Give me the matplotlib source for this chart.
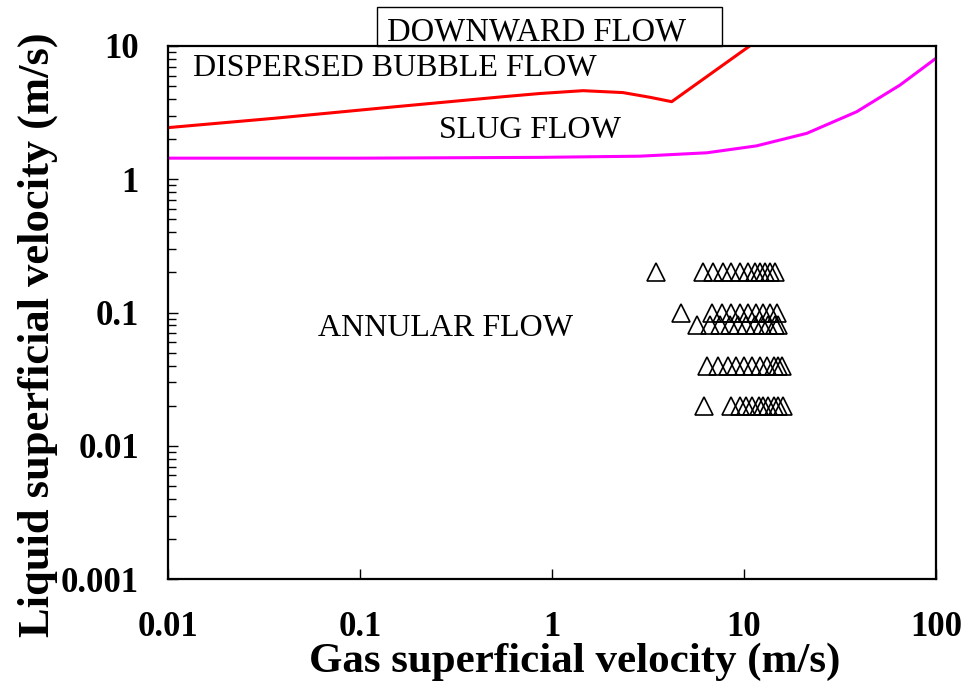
import matplotlib
matplotlib.use("Agg")
import matplotlib.pyplot as plt
from matplotlib.patches import Rectangle
from matplotlib.ticker import LogLocator, NullLocator, FixedLocator, FixedFormatter

# Boundary curves
red_x = [0.01, 0.036, 0.143, 0.565, 0.866, 1.45, 2.34, 3.24, 4.2, 10.7]
red_y = [2.44, 2.87, 3.47, 4.17, 4.4, 4.62, 4.47, 4.12, 3.82, 10.0]

mag_x = [0.01, 0.1, 0.866, 2.87, 6.4, 11.6, 21.2, 38.6, 64.9, 100.0]
mag_y = [1.44, 1.44, 1.46, 1.49, 1.58, 1.78, 2.21, 3.21, 5.09, 8.09]

# Experimental points (gas velocity per liquid velocity row)
row_02_x = [3.48, 6.1, 6.9, 7.8, 8.6, 9.5, 10.5, 11.4, 12.1, 12.9, 13.6, 14.5]
row_01_x = [4.7, 6.8, 7.66, 8.6, 9.5, 10.5, 11.5, 12.6, 13.6, 14.9]
row_008_x = [5.67, 6.65, 7.5, 8.5, 9.3, 10.2, 11.4, 12.4, 13.3, 14.5, 15.0]
row_004_x = [6.4, 7.3, 8.3, 9.1, 10.0, 11.0, 12.1, 13.1, 14.3, 15.0, 15.8]
row_002_x = [6.2, 8.6, 9.5, 10.2, 11.0, 11.9, 12.6, 13.3, 14.3, 15.0, 16.0]
rows = [(0.2, row_02_x), (0.1, row_01_x), (0.08, row_008_x),
        (0.04, row_004_x), (0.02, row_002_x)]

x_ticks = [0.01, 0.1, 1, 10, 100]
x_ticklabels = ["0.01", "0.1", "1", "10", "100"]
y_ticks = [0.001, 0.01, 0.1, 1, 10]
y_ticklabels = ["0.001", "0.01", "0.1", "1", "10"]

plt.rcParams['font.family'] = ['Liberation Serif', 'DejaVu Serif']

fig = plt.figure(figsize=(9.66, 6.83), dpi=100)
ax = fig.add_axes([0.1739, 0.152, 0.7951, 0.7807])

ax.plot(red_x, red_y, color='#ff0000', lw=2.2, zorder=3)
ax.plot(mag_x, mag_y, color='#ff00ff', lw=2.2, zorder=3)
for yv, xs in rows:
    ax.plot(xs, [yv] * len(xs), linestyle='none', marker='^', markersize=13,
            markerfacecolor='none', markeredgecolor='black', markeredgewidth=1.2,
            zorder=4)

ax.set_xscale('log')
ax.set_yscale('log')
ax.set_xlim(0.01, 100)
ax.set_ylim(0.001, 10)

ax.xaxis.set_major_locator(FixedLocator(x_ticks))
ax.xaxis.set_major_formatter(FixedFormatter(x_ticklabels))
ax.xaxis.set_minor_locator(NullLocator())
ax.yaxis.set_major_locator(FixedLocator(y_ticks))
ax.yaxis.set_major_formatter(FixedFormatter(y_ticklabels))
ax.yaxis.set_minor_locator(LogLocator(base=10, subs=range(2, 10)))

ax.tick_params(axis='x', which='major', direction='in', length=7, width=1,
               pad=23, labelsize=25)
ax.tick_params(axis='y', which='major', direction='in', length=7, width=1,
               pad=21, labelsize=25)
ax.tick_params(axis='y', which='minor', direction='in', length=6, width=1)
for lab in ax.get_xticklabels() + ax.get_yticklabels():
    lab.set_fontweight('bold')

for sp in ax.spines.values():
    sp.set_linewidth(1.6)
    sp.set_zorder(5)

ax.set_xlabel('Gas superficial velocity (m/s)', fontsize=31, fontweight='bold')
ax.set_ylabel('Liquid superficial velocity (m/s)', fontsize=32, fontweight='bold')
ax.xaxis.set_label_coords(0.53, -0.119)
ax.yaxis.set_label_coords(-0.143, 0.458)

ax.text(0.2956, 0.957, 'DISPERSED BUBBLE FLOW', transform=ax.transAxes,
        ha='center', va='center', fontsize=23)
ax.text(0.471, 0.842, 'SLUG FLOW', transform=ax.transAxes,
        ha='center', va='center', fontsize=23)
ax.text(0.361, 0.471, 'ANNULAR FLOW', transform=ax.transAxes,
        ha='center', va='center', fontsize=23)

rect = Rectangle((0.272, 1.0), 0.4495, 0.0732, transform=ax.transAxes,
                 facecolor='white', edgecolor='black', lw=1.0, clip_on=False,
                 zorder=1)
ax.add_patch(rect)
ax.text(0.48, 1.026, 'DOWNWARD FLOW', transform=ax.transAxes,
        ha='center', va='center', fontsize=23.5, clip_on=False)

fig.savefig('out.png', dpi=100)
